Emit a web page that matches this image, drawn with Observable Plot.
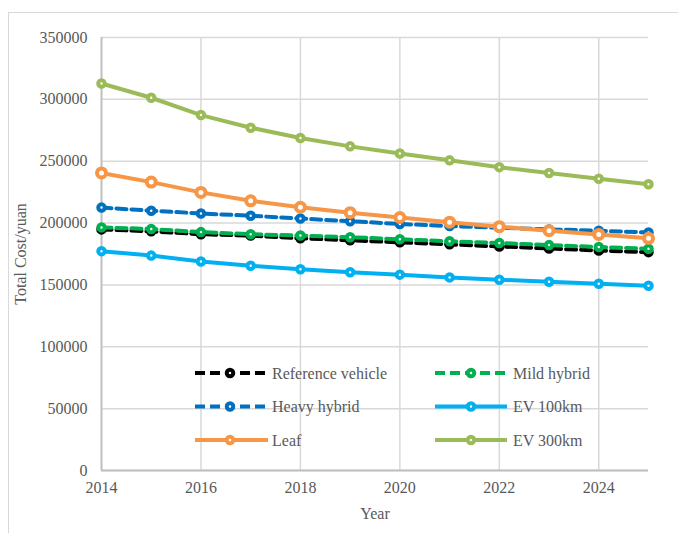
<!DOCTYPE html>
<html>
<head>
<meta charset="utf-8">
<script src="https://cdn.jsdelivr.net/npm/d3@7"></script>
<script src="https://cdn.jsdelivr.net/npm/@observablehq/plot@0.6"></script>
<style>
  body { margin: 0; background: #fff; }
  #wrap { position: relative; width: 678px; height: 533px; overflow: hidden; background: #fff; }
  #frame { position: absolute; left: 8px; top: 12px; width: 700px; height: 600px; border: 1.5px solid #d9d9d9; }
  #chart, #legend { position: absolute; left: 0; top: 0; }
</style>
</head>
<body>
<div id="wrap">
  <div id="frame"></div>
  <div id="chart"></div>
  <svg id="legend" width="678" height="533"></svg>
</div>
<script>
// Total cost of ownership by vehicle type, 2014–2025 (yuan)
const years = [2014, 2015, 2016, 2017, 2018, 2019, 2020, 2021, 2022, 2023, 2024, 2025];

const seriesNames = ["Reference vehicle", "Mild hybrid", "Heavy hybrid", "EV 100km", "Leaf", "EV 300km"];

const referenceVehicle = [194900, 193300, 191000, 189900, 187700, 186100, 184400, 182800, 181100, 179500, 177800, 176500];
const mildHybrid       = [196500, 195200, 192700, 191000, 189900, 188600, 186900, 185300, 183900, 182200, 180600, 179200];
const heavyHybrid      = [212500, 210000, 207800, 205900, 203700, 201500, 199300, 197600, 196300, 194900, 193800, 192400];
const ev100km          = [177300, 173700, 169000, 165500, 162700, 160300, 158300, 156100, 154200, 152600, 150900, 149300];
const leaf             = [240500, 233100, 224800, 218000, 212800, 208400, 204500, 200700, 197100, 193800, 190800, 187700];
const ev300km          = [312800, 301300, 287300, 277100, 268800, 262000, 256200, 250700, 245200, 240500, 235800, 231400];

const yTicks = [0, 50000, 100000, 150000, 200000, 250000, 300000, 350000];
const xTicks = [2014, 2016, 2018, 2020, 2022, 2024];

const seriesValues = [referenceVehicle, mildHybrid, heavyHybrid, ev100km, leaf, ev300km];
const colors = ["#000000", "#00b050", "#0070c0", "#00b0f0", "#f79646", "#9bbb59"];
const dashes = ["10,5", "10,5", "10,5", null, null, null];
const markerR = [3.25, 3.25, 3.25, 3.25, 4.5, 3.25];

const serif = "'Liberation Serif', 'Times New Roman', serif";

const rows = seriesNames.flatMap((name, i) =>
  years.map((year, j) => ({ series: name, year, cost: seriesValues[i][j] }))
);

const lineMarks = seriesNames.flatMap((name, i) => {
  const data = rows.filter(d => d.series === name);
  return [
    Plot.line(data, {
      x: "year", y: "cost",
      stroke: colors[i], strokeWidth: 4,
      strokeDasharray: dashes[i] ?? undefined,
      strokeLinejoin: "round"
    }),
    Plot.dot(data, {
      x: "year", y: "cost", r: markerR[i],
      fill: "#fff", stroke: colors[i], strokeWidth: 4
    })
  ];
});

const chart = Plot.plot({
  width: 678,
  height: 533,
  marginLeft: 101,
  marginRight: 30,
  marginTop: 37,
  marginBottom: 63,
  style: { fontFamily: serif, fontSize: "16px", color: "#595959", background: "transparent" },
  x: { domain: [2014, 2025] },
  y: { domain: [0, 350000] },
  marks: [
    Plot.gridY(yTicks, { stroke: "#d9d9d9", strokeOpacity: 1, strokeWidth: 1.5 }),
    Plot.gridX(xTicks.slice(1), { stroke: "#d9d9d9", strokeOpacity: 1, strokeWidth: 1.5 }),
    Plot.ruleX([2014], { stroke: "#bfbfbf", strokeWidth: 2 }),
    Plot.ruleY([0], { stroke: "#bfbfbf", strokeWidth: 2 }),
    Plot.axisY(yTicks, {
      tickSize: 0, tickPadding: 14, tickFormat: d => String(d),
      label: "Total Cost/yuan", labelAnchor: "center", labelArrow: "none", labelOffset: 87,
      fill: "#595959"
    }),
    Plot.axisX(xTicks, {
      tickSize: 0, tickPadding: 11, tickFormat: d => String(d),
      label: "Year", labelAnchor: "center", labelArrow: "none", labelOffset: 48,
      fill: "#595959"
    }),
    ...lineMarks
  ]
});
document.getElementById("chart").appendChild(chart);
d3.select(chart).selectAll("text").style("font-family", serif).style("font-size", "16px");

// Legend: two columns, three rows, drawn over the plot area
const legend = d3.select("#legend");
const cols = [{ x0: 195, x1: 268, mx: 230, tx: 272 }, { x0: 435, x1: 507, mx: 471, tx: 513 }];
const rowY = [373, 406.5, 440];
seriesNames.forEach((name, i) => {
  const c = cols[i % 2], y = rowY[Math.floor(i / 2)];
  const g = legend.append("g");
  g.append("line")
    .attr("x1", c.x0).attr("x2", c.x1).attr("y1", y).attr("y2", y)
    .attr("stroke", colors[i]).attr("stroke-width", 4)
    .attr("stroke-dasharray", dashes[i]);
  g.append("circle")
    .attr("cx", c.mx).attr("cy", y).attr("r", 3.25)
    .attr("fill", "#fff").attr("stroke", colors[i]).attr("stroke-width", 4);
  g.append("text")
    .attr("x", c.tx).attr("y", y).attr("dy", "0.35em")
    .attr("fill", "#595959")
    .style("font-family", serif).style("font-size", "16px")
    .text(name);
});
</script>
</body>
</html>
